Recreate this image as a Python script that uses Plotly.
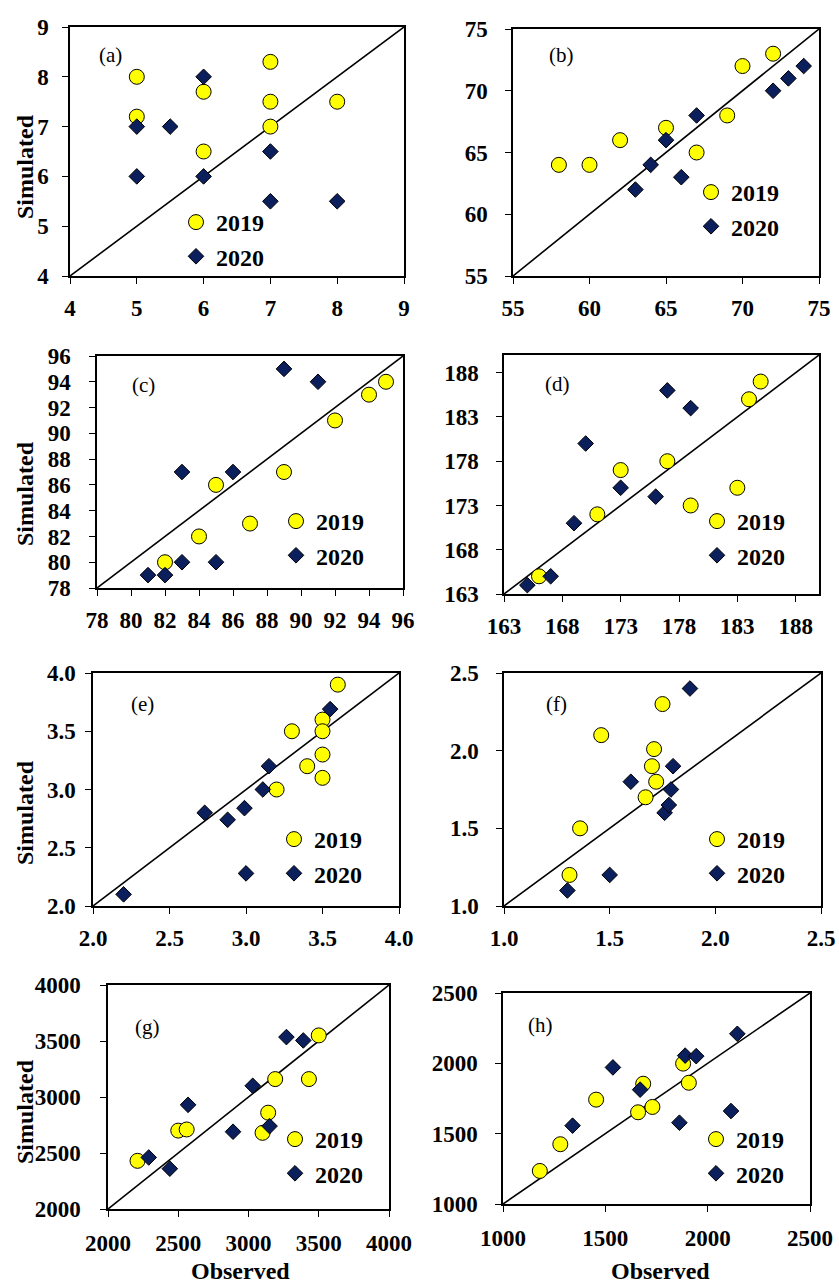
import plotly.graph_objects as go

W, H = 839, 1284

# ---------------- data (observed, simulated) ----------------
a_obs_2019 = [5, 5, 6, 6, 7, 7, 7, 8]
a_sim_2019 = [8.0, 7.2, 7.7, 6.5, 8.3, 7.5, 7.0, 7.5]
a_obs_2020 = [6, 5, 5.5, 5, 6, 7, 7, 8]
a_sim_2020 = [8, 7, 7, 6, 6, 6.5, 5.5, 5.5]

b_obs_2019 = [58, 60, 62, 65, 67, 69, 70, 72]
b_sim_2019 = [64, 64, 66, 67, 65, 68, 72, 73]
b_obs_2020 = [63, 64, 65, 66, 67, 72, 73, 74]
b_sim_2020 = [62, 64, 66, 63, 68, 70, 71, 72]

c_obs_2019 = [82, 84, 85, 87, 89, 92, 94, 95]
c_sim_2019 = [80, 82, 86, 83, 87, 91, 93, 94]
c_obs_2020 = [81, 82, 83, 83, 85, 86, 89, 91]
c_sim_2020 = [79, 79, 87, 80, 80, 87, 95, 94]

d_obs_2019 = [166, 171, 173, 177, 179, 183, 184, 185]
d_sim_2019 = [165, 172, 177, 178, 173, 175, 185, 187]
d_obs_2020 = [165, 167, 169, 170, 173, 176, 177, 179]
d_sim_2020 = [164, 165, 171, 180, 175, 174, 186, 184]

e_obs_2019 = [3.2, 3.3, 3.4, 3.5, 3.5, 3.5, 3.5, 3.6]
e_sim_2019 = [3.0, 3.5, 3.2, 3.6, 3.5, 3.3, 3.1, 3.9]
e_obs_2020 = [2.2, 2.73, 2.88, 2.99, 3.0, 3.11, 3.15, 3.55]
e_sim_2020 = [2.1, 2.8, 2.74, 2.84, 2.28, 3.0, 3.2, 3.69]

f_obs_2019 = [1.31, 1.36, 1.46, 1.67, 1.70, 1.71, 1.72, 1.75]
f_sim_2019 = [1.2, 1.5, 2.1, 1.7, 1.9, 2.01, 1.8, 2.3]
f_obs_2020 = [1.3, 1.5, 1.6, 1.76, 1.78, 1.79, 1.80, 1.88]
f_sim_2020 = [1.1, 1.2, 1.8, 1.6, 1.65, 1.75, 1.9, 2.4]

g_obs_2019 = [2210, 2500, 2560, 3100, 3140, 3190, 3430, 3500]
g_sim_2019 = [2430, 2700, 2710, 2680, 2860, 3160, 3160, 3550]
g_obs_2020 = [2290, 2440, 2570, 2890, 3030, 3150, 3270, 3390]
g_sim_2020 = [2460, 2360, 2930, 2690, 3100, 2740, 3535, 3505]

h_obs_2019 = [1180, 1280, 1455, 1660, 1685, 1730, 1880, 1908]
h_sim_2019 = [1235, 1425, 1742, 1652, 1855, 1690, 1998, 1862]
h_obs_2020 = [1340, 1537, 1670, 1862, 1890, 1944, 2114, 2145]
h_sim_2020 = [1557, 1971, 1813, 1578, 2055, 2051, 1661, 2210]

panel_labels = ["(a)", "(b)", "(c)", "(d)", "(e)", "(f)", "(g)", "(h)"]
series_names = ["2019", "2020"]
axis_ranges = [[4, 9], [55, 75], [78, 96], [163, 190],
               [2.0, 4.0], [1.0, 2.5], [2000, 4000], [1000, 2500]]
tick_steps = [1, 5, 2, 5, 0.5, 0.5, 500, 500]
tick_formats = ["d", "d", "d", "d", ".1f", ".1f", "d", "d"]

panels_data = [
    (a_obs_2019, a_sim_2019, a_obs_2020, a_sim_2020),
    (b_obs_2019, b_sim_2019, b_obs_2020, b_sim_2020),
    (c_obs_2019, c_sim_2019, c_obs_2020, c_sim_2020),
    (d_obs_2019, d_sim_2019, d_obs_2020, d_sim_2020),
    (e_obs_2019, e_sim_2019, e_obs_2020, e_sim_2020),
    (f_obs_2019, f_sim_2019, f_obs_2020, f_sim_2020),
    (g_obs_2019, g_sim_2019, g_obs_2020, g_sim_2020),
    (h_obs_2019, h_sim_2019, h_obs_2020, h_sim_2020),
]

# ---------------- layout (pixel boxes) ----------------
boxes = [  # x0, x1, y0(top), y1(bottom)
    (70, 404, 27, 276), (513, 819, 29, 276),
    (97, 403, 356, 588), (504, 819, 355, 594),
    (93, 399, 673, 906), (504, 821, 673, 906),
    (108, 389, 985, 1209), (503, 810, 993, 1204),
]
y_standoff = [9, 13, 14, 13, 5, 13, 15, 13]
x_standoff = [5, 5, 5, 5, 5, 5, 7, 7]
label_pos = [(110, 55), (561, 55), (143, 385), (557, 384),
             (142, 704), (556, 704), (147, 1027), (540, 1025)]
legend_pos = [(198, 222, 6), (713, 192, 0), (298, 521, 0), (719, 521, 0),
              (296, 839, 0), (719, 839, 0), (297, 1139, 0), (718, 1139, 0)]

SERIF = "Liberation Serif"
YELLOW = "#FFFF00"
NAVY = "#0B1F5C"

fig = go.Figure()
layout = dict(
    width=W, height=H, margin=dict(l=0, r=0, t=0, b=0, autoexpand=False),
    paper_bgcolor="white", plot_bgcolor="white", showlegend=True,
)
annotations = []

def px(x):
    return x / W

def py(y):
    return 1 - y / H

for i, (o19, s19, o20, s20) in enumerate(panels_data):
    n = "" if i == 0 else str(i + 1)
    xa, ya = "x" + n, "y" + n
    lg = "legend" + n
    lo, hi = axis_ranges[i]
    fig.add_trace(go.Scatter(x=[lo, hi], y=[lo, hi], mode="lines",
                             line=dict(color="black", width=1.6),
                             xaxis=xa, yaxis=ya, showlegend=False, hoverinfo="skip"))
    fig.add_trace(go.Scatter(x=o19, y=s19, mode="markers", name=series_names[0],
                             marker=dict(symbol="circle", size=15, color=YELLOW,
                                         line=dict(color="black", width=1)),
                             xaxis=xa, yaxis=ya, legend=lg, legendgroup=f"g{i}a"))
    fig.add_trace(go.Scatter(x=o20, y=s20, mode="markers", name=series_names[1],
                             marker=dict(symbol="diamond", size=12, color=NAVY,
                                         line=dict(color="black", width=1)),
                             xaxis=xa, yaxis=ya, legend=lg, legendgroup=f"g{i}b"))
    x0, x1, y0, y1 = boxes[i]
    tickfont = dict(family=SERIF, size=23, color="black", weight="bold")
    common = dict(range=[lo, hi], tick0=lo, dtick=tick_steps[i], tickformat=tick_formats[i],
                  showgrid=False, zeroline=False, showline=True, linecolor="black",
                  linewidth=1.5, mirror=True, ticks="outside", ticklen=6,
                  tickcolor="black", tickwidth=1.2, tickfont=tickfont, automargin=False)
    layout["xaxis" + n] = dict(domain=[px(x0), px(x1)], anchor=ya,
                               ticklabelstandoff=x_standoff[i], **common)
    layout["yaxis" + n] = dict(domain=[py(y1), py(y0)], anchor=xa,
                               ticklabelstandoff=y_standoff[i], **common)
    lx, ly, gap = legend_pos[i]
    layout[lg] = dict(x=px(lx - 22), y=py(ly - 22), xanchor="left", yanchor="top",
                      bgcolor="rgba(0,0,0,0)", borderwidth=0, itemwidth=30,
                      tracegroupgap=gap, traceorder="normal",
                      font=dict(family=SERIF, size=24, color="black", weight="bold"))
    lpx, lpy = label_pos[i]
    annotations.append(dict(text=panel_labels[i], x=px(lpx), y=py(lpy), xref="paper",
                            yref="paper", showarrow=False, xanchor="center", yanchor="middle",
                            font=dict(family=SERIF, size=21, color="black")))

# axis titles
title_font = dict(family=SERIF, size=24, color="black", weight="bold")
for cy in [167, 494, 813, 1112]:
    annotations.append(dict(text="Simulated", x=px(25), y=py(cy), xref="paper", yref="paper",
                            showarrow=False, textangle=-90, xanchor="center",
                            yanchor="middle", font=title_font))
for cx in [240, 660]:
    annotations.append(dict(text="Observed", x=px(cx), y=py(1271), xref="paper", yref="paper",
                            showarrow=False, xanchor="center", yanchor="middle",
                            font=title_font))

layout["annotations"] = annotations
fig.update_layout(**layout)
fig.write_html(
    "out.html",
    config={"displayModeBar": False},
    post_script="document.body.style.margin='0';document.body.style.padding='0';"
                "document.body.style.overflow='hidden';",
)
